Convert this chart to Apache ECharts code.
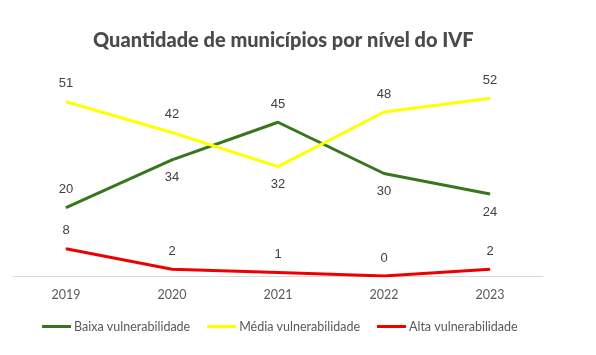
<!DOCTYPE html>
<html><head><meta charset="utf-8">
<script src="https://cdn.jsdelivr.net/npm/echarts@6/dist/echarts.min.js"></script>
<style>html,body{margin:0;padding:0;background:#fff}#c{width:596px;height:355px}</style>
</head><body><div id="c"></div>
<script>
const years = ['2019','2020','2021','2022','2023'];
const baixa = [20,34,45,30,24];
const media = [51,42,32,48,52];
const alta = [8,2,1,0,2];
const baixaPos = ['top','bottom','top','bottom','bottom'];
const mediaPos = ['top','top','bottom','top','top'];
const altaPos = ['top','top','top','top','top'];

function mk(vals, pos){ return vals.map((v,i)=>({value:v,label:{position:pos[i]}})); }
const lbl = {show:true,color:'#404040',fontSize:13,fontFamily:'Liberation Sans',distance:11};
const chart = echarts.init(document.getElementById('c'));
chart.setOption({
  animation:false,
  title:{text:'Quantidade de municípios por nível do IVF',left:88,top:26,
    textStyle:{fontFamily:'Lato',fontWeight:900,fontSize:20,color:'#4a4a4a'}},
  grid:{left:13,right:53,top:71,bottom:79},
  legend:{bottom:17,left:37,itemWidth:29,itemHeight:3,itemGap:17,icon:'rect',
    textStyle:{fontFamily:'Lato',fontSize:12.5,color:'#595959',padding:[0,0,0,-2]},
    data:['Baixa vulnerabilidade','Média vulnerabilidade','Alta vulnerabilidade']},
  xAxis:{type:'category',data:years,boundaryGap:true,
    axisLine:{lineStyle:{color:'#d9d9d9',width:1}},axisTick:{show:false},
    axisLabel:{color:'#595959',fontFamily:'Lato',fontSize:12.5,margin:12}},
  yAxis:{type:'value',min:0,max:60,show:false,splitLine:{show:false}},
  series:[
    {name:'Baixa vulnerabilidade',type:'line',data:mk(baixa,baixaPos),symbol:'circle',symbolSize:1,showSymbol:true,
     lineStyle:{color:'#38761d',width:3},itemStyle:{color:'#38761d'},label:lbl},
    {name:'Média vulnerabilidade',type:'line',data:mk(media,mediaPos),symbol:'circle',symbolSize:1,showSymbol:true,
     lineStyle:{color:'#ffff00',width:3},itemStyle:{color:'#ffff00'},label:lbl},
    {name:'Alta vulnerabilidade',type:'line',data:mk(alta,altaPos),symbol:'circle',symbolSize:1,showSymbol:true,
     lineStyle:{color:'#ee0000',width:3},itemStyle:{color:'#ee0000'},label:lbl}
  ]
});
</script></body></html>
